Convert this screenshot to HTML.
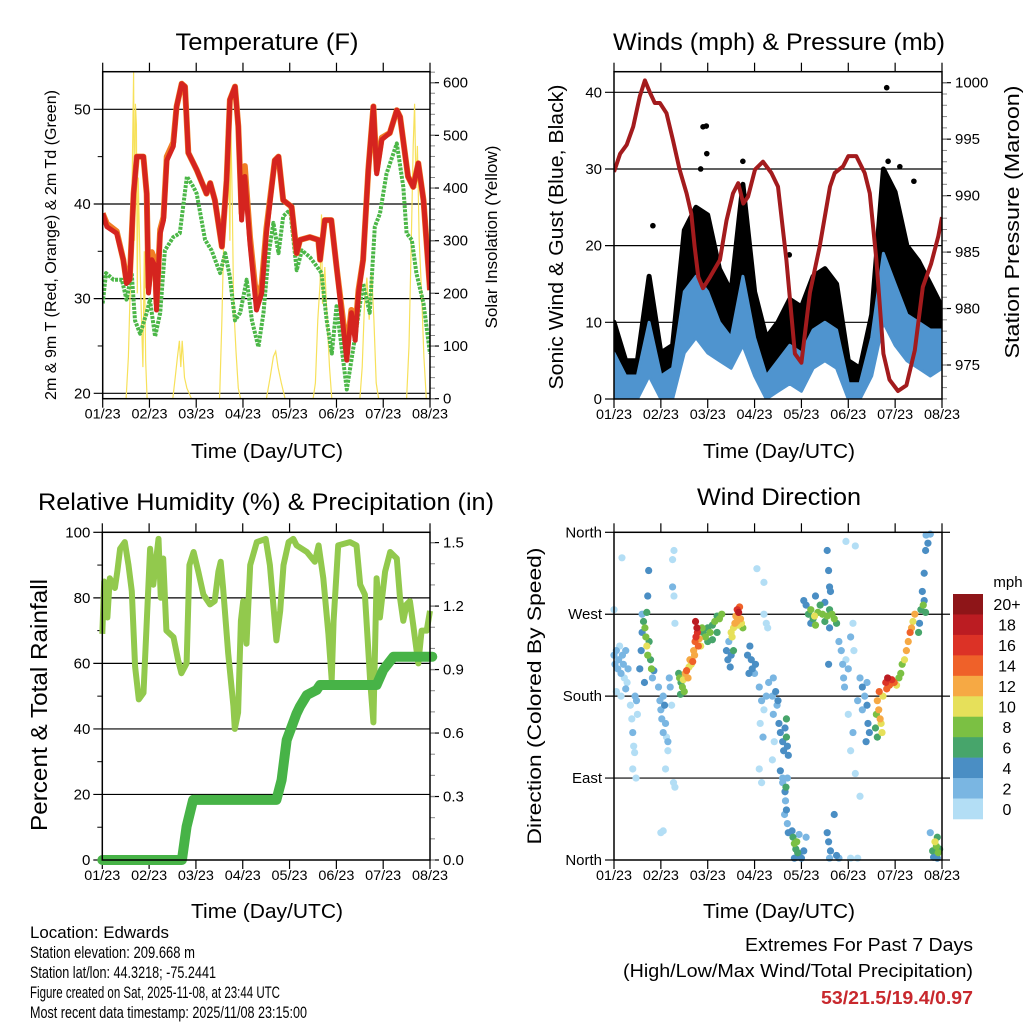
<!DOCTYPE html>
<html><head><meta charset="utf-8"><style>
html,body{margin:0;padding:0;background:#fff;}
svg{display:block;font-family:"Liberation Sans",Arial,sans-serif;}
</style></head><body>
<svg id="c" width="1024" height="1024" viewBox="0 0 1024 1024" xmlns="http://www.w3.org/2000/svg"></svg>
<script>
// ---------- DATA ----------
const dayLabels = ["01/23","02/23","03/23","04/23","05/23","06/23","07/23","08/23"];
const tempTicks = [20,30,40,50];
const solarTicks = [0,100,200,300,400,500,600];
const windTicks = [0,10,20,30,40];
const presTicks = [975,980,985,990,995,1000];
const rhTicks = [0,20,40,60,80,100];
const rainTicks = [0.0,0.3,0.6,0.9,1.2,1.5];
const rainTickLabels = ["0.0","0.3","0.6","0.9","1.2","1.5"];
const dirTicks = [0,90,180,270,360];
const dirLabels = ["North","East","South","West","North"];
const speedBins = ["0","2","4","6","8","10","12","14","16","18","20+"];
const speedColors = ["#b3def5","#7ab6e2","#4a8ec4","#47a56b","#7bc043","#e6e05a","#f6a944","#ef6129","#dc3226","#bb1c22","#8e1518"];

const tempRed = [[0,39],[0.09,37.6],[0.3,36.9],[0.44,34.1],[0.51,31.6],[0.58,32],[0.66,41.1],[0.73,45],[0.87,45],[0.94,41.1],[0.98,30.6],[1.05,34.1],[1.12,33.4],[1.15,28.8],[1.23,36.9],[1.3,38.3],[1.37,44.6],[1.51,46.1],[1.58,50.3],[1.69,52.7],[1.76,52.4],[1.83,45.4],[2.01,43.6],[2.22,41.1],[2.3,42.2],[2.4,40.4],[2.55,35.5],[2.65,42.5],[2.72,51],[2.83,52.4],[2.9,48.2],[2.97,38.3],[3.04,42.9],[3.15,35.8],[3.29,28.8],[3.4,30.6],[3.5,36.9],[3.68,44.6],[3.76,45],[3.86,40.4],[4.04,39.7],[4.15,34.8],[4.22,36.2],[4.43,36.5],[4.61,36.2],[4.65,34.1],[4.75,38.3],[4.89,38.3],[5.0,33.4],[5.22,23.5],[5.32,28.5],[5.4,25.6],[5.47,30.6],[5.57,34.1],[5.68,43.6],[5.79,50.3],[5.86,43.2],[5.97,46.8],[6.14,47.5],[6.29,49.9],[6.36,49.2],[6.53,42.9],[6.64,41.8],[6.75,44.3],[6.86,40.4],[7.0,30.9]];
const tempOrange = [[0,39],[0.09,37.9],[0.3,37.1],[0.44,34.1],[0.51,31.8],[0.58,32.2],[0.66,41.1],[0.73,45],[0.87,45],[0.94,41.1],[0.98,31.2],[1.05,34.9],[1.12,34],[1.15,29.5],[1.23,37.3],[1.3,38.6],[1.37,45],[1.51,46.5],[1.58,50.3],[1.69,52.7],[1.76,52.4],[1.83,45.4],[2.01,43.6],[2.22,41.1],[2.3,42.2],[2.4,40.4],[2.55,35.5],[2.65,42.5],[2.72,51],[2.83,52.4],[2.9,48.2],[2.97,39],[3.04,44],[3.15,36.5],[3.29,29.8],[3.4,31.5],[3.5,37.4],[3.68,44.6],[3.76,45],[3.86,40.4],[4.04,39.7],[4.15,34.8],[4.22,36.2],[4.43,36.5],[4.61,36.2],[4.65,34.1],[4.75,38.3],[4.89,38.3],[5.0,33.4],[5.22,24.5],[5.32,28.8],[5.4,26.5],[5.47,30.9],[5.57,34.1],[5.68,43.6],[5.79,50.3],[5.86,43.5],[5.97,47],[6.14,47.5],[6.29,49.9],[6.36,49.2],[6.53,42.9],[6.64,41.8],[6.75,44.3],[6.86,40.4],[7.0,30.9]];
const tempDew = [[0,29.5],[0.07,32.7],[0.23,32],[0.41,32],[0.51,29.9],[0.62,32.7],[0.69,27.7],[0.8,26.3],[0.94,28.5],[1.01,29.9],[1.12,26],[1.23,28.5],[1.33,35.1],[1.51,36.5],[1.65,36.9],[1.8,42.9],[1.94,41.8],[2.01,41.1],[2.19,36.2],[2.33,35.1],[2.51,32.7],[2.62,34.8],[2.72,32.3],[2.83,27.7],[2.94,28.5],[3.08,32],[3.19,27.7],[3.33,24.9],[3.44,28.5],[3.55,34.8],[3.65,38],[3.76,34.8],[3.86,38.7],[4.01,39.4],[4.15,33],[4.26,35.1],[4.43,34.4],[4.58,33.4],[4.68,32.7],[4.79,27.7],[4.9,24.2],[5.0,29.2],[5.22,20.4],[5.32,23.5],[5.43,27],[5.57,31.6],[5.71,28.5],[5.82,37.6],[5.93,39],[6.07,43.2],[6.29,46.4],[6.43,41.8],[6.5,36.9],[6.61,36.2],[6.71,32.7],[6.86,29.5],[7.0,24.2]];
const solar = [[0,0],[0.5,0],[0.55,80],[0.6,250],[0.63,420],[0.66,620],[0.68,300],[0.7,560],[0.72,520],[0.74,200],[0.76,420],[0.8,250],[0.83,150],[0.86,60],[0.89,280],[0.92,70],[0.95,0],[1.5,0],[1.55,40],[1.6,80],[1.64,110],[1.67,60],[1.7,110],[1.75,40],[1.8,20],[1.9,0],[2.5,0],[2.55,150],[2.6,350],[2.64,500],[2.68,560],[2.7,420],[2.72,300],[2.74,520],[2.77,380],[2.8,180],[2.85,90],[2.9,20],[2.95,0],[3.5,0],[3.58,40],[3.65,80],[3.7,90],[3.75,60],[3.82,30],[3.9,0],[4.5,0],[4.55,30],[4.6,150],[4.65,220],[4.68,350],[4.7,180],[4.75,250],[4.8,150],[4.85,60],[4.9,0],[5.5,0],[5.55,60],[5.6,180],[5.65,230],[5.7,150],[5.75,240],[5.8,150],[5.85,30],[5.9,0],[6.5,0],[6.55,100],[6.6,300],[6.64,480],[6.67,560],[6.7,400],[6.73,480],[6.77,300],[6.82,200],[6.87,80],[6.92,0],[7,0]];

const windDays = [0,0.25,0.5,0.75,1,1.25,1.5,1.75,2,2.25,2.5,2.75,3,3.25,3.5,3.75,4,4.25,4.5,4.75,5,5.25,5.5,5.75,6,6.25,6.5,6.75,7];
const windLo = [0,0,0,3,0,0,6,8,6,5,4,7,3,0,1,2,1,4,5,4,0,0,3,10,7,5,4,3,4];
const windHi = [6,3,3,10,3,4,14,16,14,10,8,16,8,3,5,7,6,9,10,9,2,2,8,19,15,11,10,9,9];
const gustLo = [3,1,2,7,1,2,10,13,10,8,6,12,5,1,3,5,4,6,8,7,1,1,5,17,14,9,9,7,6];
const gustHi = [10,5,5,16,6,7,22,25,24,17,14,28,14,8,10,13,12,16,17,15,5,4,11,30,27,20,18,15,12];
const gustOutliers = [[0.83,22.6],[1.85,30],[1.9,35.5],[1.97,35.6],[1.98,32],[2.75,31],[5.82,40.6],[5.85,31],[6.1,30.3],[6.4,28.4],[3.74,18.8]];
const pressure = [[0,992.1],[0.13,993.7],[0.27,994.5],[0.41,996.1],[0.55,998.8],[0.66,1000.2],[0.77,999.1],[0.87,998.2],[0.98,998.2],[1.12,997.3],[1.26,994.9],[1.4,992.3],[1.55,990.2],[1.65,988.4],[1.72,985.5],[1.8,982.8],[1.9,981.8],[2.05,982.8],[2.26,984.3],[2.4,987.8],[2.54,990.2],[2.65,991.1],[2.76,989.3],[2.86,989.9],[3.01,992.3],[3.18,993],[3.36,992],[3.5,990.8],[3.68,984.3],[3.86,976],[4.0,975.2],[4.18,981.4],[4.39,985.5],[4.61,990.8],[4.71,992],[4.89,992.6],[5.0,993.5],[5.17,993.5],[5.35,992],[5.46,990.2],[5.6,984.3],[5.75,976],[5.88,973.7],[6.06,972.7],[6.24,973.2],[6.42,976.3],[6.59,981.9],[6.77,984],[6.92,986.4],[7.0,988.1]];

const rhSeries = [[0,69],[0.04,85],[0.11,74],[0.16,86],[0.27,83],[0.32,88],[0.38,95],[0.48,97],[0.56,90],[0.63,82],[0.7,59],[0.78,49],[0.88,51],[0.95,73],[1.02,95],[1.09,84],[1.2,98],[1.25,80],[1.3,92],[1.37,70],[1.52,68],[1.62,61],[1.69,57],[1.8,60],[1.86,90],[1.95,94],[2.05,88],[2.16,81],[2.3,78],[2.4,79],[2.48,88],[2.53,91],[2.58,83],[2.69,63],[2.8,47],[2.83,40],[2.9,45],[2.96,73],[3.01,79],[3.08,66],[3.16,90],[3.3,97],[3.49,98],[3.58,90],[3.72,67],[3.8,76],[3.87,90],[3.98,97],[4.08,98],[4.15,96],[4.37,94],[4.54,91],[4.62,96],[4.72,86],[4.83,69],[4.9,55],[4.94,73],[5.04,96],[5.29,97],[5.43,96],[5.51,84],[5.61,81],[5.72,55],[5.79,42],[5.86,86],[5.93,74],[6.04,88],[6.15,94],[6.29,92],[6.36,80],[6.43,73],[6.5,78],[6.57,79],[6.64,72],[6.75,60],[6.82,70],[6.93,70],[7.0,76]];
const rainSeries = [[0,0],[1.7,0],[1.8,0.158],[1.94,0.284],[3.72,0.284],[3.83,0.378],[3.94,0.567],[4.15,0.693],[4.22,0.725],[4.37,0.78],[4.58,0.804],[4.65,0.827],[5.86,0.827],[6.0,0.898],[6.22,0.961],[7.05,0.961]];

const dirObs = [[0.0,225,3],[0.02,215,2],[0.05,230,3],[0.08,210,3],[0.1,220,2],[0.12,235,1],[0.15,205,3],[0.18,225,2],[0.2,215,3],[0.22,200,1],[0.25,230,2],[0.28,195,1],[0.3,210,2],[0.05,185,1],[0.15,180,1],[0.0,275,1],[0.17,332,1],[0.25,188,2],
[0.35,170,1],[0.38,155,1],[0.4,140,2],[0.42,125,1],[0.44,118,1],[0.4,100,1],[0.45,180,2],[0.48,175,2],[0.5,160,1],[0.47,90,1],
[0.55,210,4],[0.58,230,4],[0.6,250,5],[0.63,262,6],[0.66,255,8],[0.68,245,9],[0.7,235,10],[0.72,225,8],[0.75,240,7],[0.78,220,6],[0.8,210,8],[0.7,272,6],[0.72,290,4],[0.74,318,4],[0.82,200,3],[0.85,208,4],[0.65,195,5],[0.6,270,2],
[0.95,190,2],[0.98,175,2],[1.0,165,3],[1.02,155,2],[1.05,180,3],[1.08,170,4],[1.1,150,2],[1.12,135,1],[1.15,120,1],[1.05,140,3],[1.18,200,2],[1.2,190,2],[1.23,170,1],[1.25,330,1],[1.28,340,1],[1.25,300,2],[1.28,290,1],[1.3,260,1],[1.27,85,1],[1.3,80,1],[1.0,30,1],[1.05,32,1],[1.15,130,2],[1.1,100,1],
[1.38,205,6],[1.4,200,8],[1.43,195,7],[1.46,190,9],[1.48,198,10],[1.5,185,8],[1.52,205,12],[1.55,208,14],[1.58,200,13],[1.6,212,11],[1.62,220,12],[1.65,215,10],[1.42,182,6],
[1.7,230,12],[1.73,240,14],[1.75,245,17],[1.78,250,16],[1.8,235,14],[1.77,255,18],[1.74,262,19],[1.82,243,12],[1.85,235,10],[1.72,225,13],[1.68,218,15],
[1.9,250,7],[1.95,245,8],[2.0,255,7],[2.05,250,9],[2.1,258,7],[2.15,262,8],[2.2,268,7],[2.25,265,9],[2.3,270,8],[2.0,240,6],[2.1,242,7],[2.2,250,6],[1.88,255,9],
[2.4,230,4],[2.43,220,4],[2.45,240,3],[2.48,212,4],[2.5,250,10],[2.52,245,11],[2.55,255,10],[2.58,260,12],[2.5,225,5],[2.55,230,7],
[2.6,268,12],[2.63,275,16],[2.66,272,18],[2.68,278,14],[2.7,265,12],[2.72,260,10],[2.75,255,8],[2.62,262,13],[2.65,258,10],
[2.85,225,4],[2.9,235,5],[2.93,220,4],[2.95,210,4],[3.0,205,3],[3.02,215,4],[2.88,205,4],
[3.1,190,2],[3.15,175,2],[3.2,165,1],[3.12,150,1],[3.18,135,2],[3.1,100,1],[3.15,85,1],[3.2,270,1],[3.25,260,1],[3.28,255,1],[3.3,195,2],[3.25,180,2],[3.05,320,1],[3.2,305,1],
[3.4,200,3],[3.45,185,4],[3.48,170,3],[3.5,175,4],[3.52,150,4],[3.55,140,5],[3.6,130,4],[3.62,120,5],[3.65,145,4],[3.68,155,6],[3.7,125,4],[3.72,115,5],[3.68,135,7],[3.4,160,2],[3.42,130,1],[3.38,110,1],[3.55,98,4],[3.6,90,3],[3.38,180,2],[3.7,90,3],
[3.6,85,3],[3.65,75,4],[3.67,80,6],[3.66,65,3],[3.68,55,4],[3.64,50,3],[3.7,40,3],[3.72,30,4],
[3.8,32,4],[3.82,25,6],[3.85,18,8],[3.88,12,7],[3.9,20,8],[3.92,8,6],[3.95,5,5],[3.85,2,4],[3.9,3,3],[4.0,2,5],[4.05,10,4],[3.95,28,3],[4.1,25,2],
[4.1,280,5],[4.15,270,6],[4.2,275,8],[4.25,265,7],[4.28,268,10],[4.3,258,8],[4.35,272,8],[4.4,280,7],[4.45,270,9],[4.5,262,7],[4.55,268,8],[4.6,275,6],[4.65,270,9],[4.7,265,8],[4.75,260,6],[4.5,283,4],[4.2,260,5],[4.3,290,4],[4.05,285,4],
[4.55,340,4],[4.58,318,4],[4.6,300,4],[4.62,295,5],[4.6,255,4],[4.58,215,4],[4.55,30,4],[4.58,20,4],[4.62,10,4],[4.6,2,3],[4.75,5,4],[4.8,2,2],[4.7,50,4],
[4.8,240,3],[4.85,230,2],[4.88,215,3],[4.9,200,2],[4.92,190,2],[4.95,220,1],[5.0,210,2],[5.05,245,2],[5.1,260,1],[5.12,230,1],[4.95,350,1],[5.15,345,1],[5.0,160,1],[5.1,140,2],[5.05,120,1],[5.15,95,1],[5.25,70,1],[5.2,2,1],[5.05,2,1],
[5.25,200,3],[5.3,190,4],[5.35,180,3],[5.4,170,4],[5.42,150,4],[5.45,140,5],[5.3,165,2],[5.2,175,2],[5.4,195,3],[5.38,130,4],
[5.62,175,12],[5.65,165,13],[5.68,155,12],[5.7,150,11],[5.72,140,10],[5.6,160,8],[5.58,145,6],[5.66,185,14],[5.74,180,10],[5.62,135,7],
[5.8,195,16],[5.84,200,18],[5.88,192,14],[5.93,198,16],[5.98,195,14],[6.03,192,10],[5.82,188,14],[6.08,200,8],[6.12,205,8],
[6.15,215,9],[6.2,220,10],[6.24,230,12],[6.28,240,12],[6.32,250,14],[6.35,255,12],[6.38,262,10],[6.42,270,12],
[6.5,250,7],[6.52,260,4],[6.55,275,6],[6.6,280,8],[6.62,285,4],[6.65,272,6],[6.58,295,4],[6.62,315,4],[6.65,340,4],[6.7,348,4],[6.75,358,2],[6.66,357,3],
[6.8,10,6],[6.85,20,10],[6.88,15,8],[6.9,25,6],[6.92,8,8],[6.95,12,6],[6.82,3,4],[6.9,2,4],[6.75,30,3]];

// ---------- HELPERS ----------
const NS = "http://www.w3.org/2000/svg";
const svg = document.getElementById("c");
function mk(tag, attrs, parent, name, inter) {
  const e = document.createElementNS(NS, tag);
  for (const k in attrs) e.setAttribute(k, attrs[k]);
  
  
  (parent || svg).appendChild(e);
  return e;
}
function txt(s, x, y, size, anchor, parent, name, opts) {
  opts = opts || {};
  const a = {x:x, y:y, "font-size":size, "text-anchor":anchor, fill: opts.fill || "#000"};
  if (opts.len) { a.textLength = opts.len; a.lengthAdjust = "spacingAndGlyphs"; }
  if (opts.rot !== undefined) a.transform = "rotate(" + opts.rot + " " + x + " " + y + ")";
  if (opts.weight) a["font-weight"] = opts.weight;
  const t = mk("text", a, parent, name, false);
  t.textContent = s;
  return t;
}
function scale(d0, d1, r0, r1) { return v => r0 + (v - d0) * (r1 - r0) / (d1 - d0); }
function pathFrom(arr, sx, sy) { return arr.map((p, i) => (i ? "L" : "M") + sx(p[0]).toFixed(1) + " " + sy(p[1]).toFixed(1)).join(" "); }

function frame(g, box, leftTicks, leftScale, leftLabels, rightTicks, rightScale, rightLabels, rightMinor, leftMinor) {
  const {x0, x1, y0, y1} = box;
  const sx = scale(0, 7, x0, x1);
  leftTicks.forEach((v, i) => {
    const y = leftScale(v);
    if (y > y0 + 1 && y < y1 - 1) mk("line", {x1:x0 - 9, x2:x1, y1:y, y2:y, stroke:"#000", "stroke-width":1.2}, g, "grid-line", false);
    else mk("line", {x1:x0 - 9, x2:x0, y1:y, y2:y, stroke:"#000", "stroke-width":1.2}, g, "y-tick", false);
    txt(leftLabels[i], x0 - 12, y + 5, 15, "end", g, "y-tick-label");
  });
  (leftMinor || []).forEach(v => {
    const y = leftScale(v);
    mk("line", {x1:x0 - 5, x2:x0, y1:y, y2:y, stroke:"#000", "stroke-width":1}, g, "y-minor-tick", false);
  });
  if (rightTicks) {
    rightTicks.forEach((v, i) => {
      const y = rightScale(v);
      mk("line", {x1:x1, x2:x1 + 9, y1:y, y2:y, stroke:"#000", "stroke-width":1.2}, g, "y2-tick", false);
      txt(rightLabels[i], x1 + 13, y + 5, 15, "start", g, "y2-tick-label");
    });
    (rightMinor || []).forEach(v => {
      const y = rightScale(v);
      if (y >= y0 && y <= y1) mk("line", {x1:x1, x2:x1 + 5, y1:y, y2:y, stroke:"#888", "stroke-width":1}, g, "y2-minor-tick", false);
    });
  }
  dayLabels.forEach((lab, i) => {
    const x = sx(i);
    mk("line", {x1:x, x2:x, y1:y0 - 9, y2:y0, stroke:"#000", "stroke-width":1.2}, g, "x-tick-top", false);
    mk("line", {x1:x, x2:x, y1:y1, y2:y1 + 9, stroke:"#000", "stroke-width":1.2}, g, "x-tick", false);
    txt(lab, x, y1 + 20, 14, "middle", g, "x-tick-label", {len:36});
  });
  return sx;
}
function border(g, box) {
  mk("rect", {x:box.x0, y:box.y0, width:box.x1 - box.x0, height:box.y1 - box.y0, fill:"none", stroke:"#000", "stroke-width":1.5}, g, "plot-border", false);
}
function clip(id, box) {
  const cp = mk("clipPath", {id:id}, svg, "clip-region", false);
  mk("rect", {x:box.x0, y:box.y0, width:box.x1 - box.x0, height:box.y1 - box.y0}, cp, "clip-rect", false);
}
function range(a, b, s) { const r = []; for (let v = a; v <= b + 1e-9; v += s) r.push(+v.toFixed(3)); return r; }

// ---------- PANEL 1: TEMPERATURE ----------
{
  const box = {x0:102.7, x1:430, y0:71.7, y1:398.7};
  const g = mk("g", {}, svg, "temperature-panel", false);
  const yT = scale(20, 50, 393.3, 109.3);
  const yS = scale(0, 600, 398.7, 82.7);
  const sx = frame(g, box, tempTicks, yT, tempTicks.map(String), solarTicks, yS, solarTicks.map(String), range(0, 620, 20), [25,35,45]);
  clip("c1", box);
  const d = mk("g", {"clip-path":"url(#c1)"}, g, "temperature-series", false);
  mk("path", {d:pathFrom(solar, sx, yS), fill:"none", stroke:"#f7e15a", "stroke-width":1.2}, d, "solar-insolation-line", false);
  mk("path", {d:pathFrom(tempDew, sx, yT), fill:"none", stroke:"#4cb748", "stroke-width":4, "stroke-dasharray":"3 1.2", "stroke-linejoin":"round"}, d, "dewpoint-2m-line", false);
  mk("path", {d:pathFrom(tempOrange, sx, yT), fill:"none", stroke:"#f07e25", "stroke-width":6, "stroke-linejoin":"round"}, d, "temp-9m-line", false);
  mk("path", {d:pathFrom(tempRed, sx, yT), fill:"none", stroke:"#d5241f", "stroke-width":5, "stroke-linejoin":"round"}, d, "temp-2m-line", false);
  border(g, box);
  txt("Temperature (F)", 267, 50, 24, "middle", g, "temperature-title", {len:183});
  txt("Time (Day/UTC)", 267, 458, 20, "middle", g, "temperature-x-axis-title", {len:152});
  txt("2m & 9m T (Red, Orange) & 2m Td (Green)", 56, 245, 16, "middle", g, "temperature-y-axis-title", {rot:-90, len:310});
  txt("Solar Insolation (Yellow)", 497, 237, 17, "middle", g, "solar-y-axis-title", {rot:-90, len:183});
}

// ---------- PANEL 2: WINDS & PRESSURE ----------
{
  const box = {x0:614, x1:942, y0:71.7, y1:399};
  const g = mk("g", {}, svg, "winds-panel", false);
  const yW = scale(0, 40, 399, 92.3);
  const yP = scale(975, 1000, 365, 82.7);
  const sx = frame(g, box, windTicks, yW, windTicks.map(String), presTicks, yP, presTicks.map(String), range(972, 1001, 1));
  clip("c2", box);
  const d = mk("g", {"clip-path":"url(#c2)"}, g, "wind-series", false);
  const gustPoly = windDays.map((t, i) => [t, gustHi[i]]).concat(windDays.map((t, i) => [t, gustLo[i]]).reverse());
  mk("path", {d:pathFrom(gustPoly, sx, yW) + "Z", fill:"#000", stroke:"#000", "stroke-width":5, "stroke-linejoin":"round"}, d, "gust-band", false);
  gustOutliers.forEach(p => {
    mk("circle", {cx:sx(p[0]), cy:yW(p[1]), r:2.8, fill:"#000"}, d, "gust-point", false);
  });
  const windPoly = windDays.map((t, i) => [t, windHi[i]]).concat(windDays.map((t, i) => [t, windLo[i]]).reverse());
  mk("path", {d:pathFrom(windPoly, sx, yW) + "Z", fill:"#4f94cf", stroke:"#4f94cf", "stroke-width":3, "stroke-linejoin":"round"}, d, "wind-speed-band", false);
  mk("path", {d:pathFrom(pressure, sx, yP), fill:"none", stroke:"#a31b1d", "stroke-width":4, "stroke-linejoin":"round"}, d, "pressure-line", false);
  border(g, box);
  txt("Winds (mph) & Pressure (mb)", 779, 50, 24, "middle", g, "winds-title", {len:332});
  txt("Time (Day/UTC)", 779, 458, 20, "middle", g, "winds-x-axis-title", {len:152});
  txt("Sonic Wind & Gust (Blue, Black)", 563, 237, 20, "middle", g, "wind-y-axis-title", {rot:-90, len:305});
  txt("Station Pressure (Maroon)", 1019, 222, 20, "middle", g, "pressure-y-axis-title", {rot:-90, len:273});
}

// ---------- PANEL 3: RH & PRECIP ----------
{
  const box = {x0:102.3, x1:430, y0:532.3, y1:860};
  const g = mk("g", {}, svg, "humidity-panel", false);
  const yR = scale(0, 100, 860, 532.3);
  const yP = scale(0, 1.5, 860, 542.6);
  const sx = frame(g, box, rhTicks, yR, rhTicks.map(String), rainTicks, yP, rainTickLabels, range(0, 1.5, 0.1), [10,30,50,70,90]);
  clip("c3", {x0:95, x1:440, y0:532.3, y1:868});
  const d = mk("g", {"clip-path":"url(#c3)"}, g, "humidity-series", false);
  mk("path", {d:pathFrom(rhSeries, sx, yR), fill:"none", stroke:"#92c94d", "stroke-width":6, "stroke-linejoin":"round"}, d, "relative-humidity-line", false);
  mk("path", {d:pathFrom(rainSeries, sx, yP), fill:"none", stroke:"#47b347", "stroke-width":10, "stroke-linejoin":"round", "stroke-linecap":"round"}, d, "total-rainfall-line", false);
  border(g, box);
  txt("Relative Humidity (%) & Precipitation (in)", 266, 510, 24, "middle", g, "humidity-title", {len:456});
  txt("Time (Day/UTC)", 267, 918, 20, "middle", g, "humidity-x-axis-title", {len:152});
  txt("Percent & Total Rainfall", 47, 705, 23, "middle", g, "humidity-y-axis-title", {rot:-90, len:252});
}

// ---------- PANEL 4: WIND DIRECTION ----------
{
  const box = {x0:614, x1:942, y0:532.3, y1:860};
  const g = mk("g", {}, svg, "wind-direction-panel", false);
  const yD = scale(0, 360, 860, 532.3);
  const sx = frame(g, box, dirTicks, yD, dirLabels, null);
  dirTicks.forEach(v => {
    mk("line", {x1:box.x1, x2:box.x1 + 8, y1:yD(v), y2:yD(v), stroke:"#000", "stroke-width":1.2}, g, "grid-line-ext", false);
  });
  const d = mk("g", {}, g, "wind-direction-points", false);
  const order = dirObs.slice().sort((a, b) => a[2] - b[2]);
  order.forEach(p => {
    const bin = Math.min(10, Math.floor(p[2] / 2));
    mk("circle", {cx:sx(p[0]), cy:yD(p[1]), r:3.6, fill:speedColors[bin]}, d, "wind-direction-point", false);
  });
  border(g, box);
  txt("Wind Direction", 779, 505, 24, "middle", g, "wind-direction-title", {len:164});
  txt("Time (Day/UTC)", 779, 918, 20, "middle", g, "wind-direction-x-axis-title", {len:152});
  txt("Direction (Colored By Speed)", 541, 696, 19, "middle", g, "wind-direction-y-axis-title", {rot:-90, len:297});
  const cb = mk("g", {}, svg, "speed-colorbar", false);
  const top = 594, h = 225 / 11;
  txt("mph", 1008, 587, 15, "middle", cb, "colorbar-unit-label");
  for (let i = 0; i < 11; i++) {
    const idx = 10 - i;
    mk("rect", {x:953, y:top + i * h, width:30, height:h + 0.3, fill:speedColors[idx]}, cb, "colorbar-swatch", false);
    txt(speedBins[idx], 1007, top + i * h + h / 2 + 6, 16, "middle", cb, "colorbar-label");
  }
}

// ---------- FOOTER ----------
{
  const g = mk("g", {}, svg, "station-info", false);
  const lines = ["Location: Edwards","Station elevation: 209.668 m","Station lat/lon: 44.3218; -75.2441","Figure created on Sat, 2025-11-08, at 23:44 UTC","Most recent data timestamp: 2025/11/08 23:15:00"];
  const lens = [139,165,186,250,277];
  lines.forEach((s, i) => txt(s, 30, 938 + i * 20, 17, "start", g, "station-info-line", {len:lens[i]}));
  const r = mk("g", {}, svg, "extremes-summary", false);
  txt("Extremes For Past 7 Days", 973, 951, 18, "end", r, "extremes-title", {len:228});
  txt("(High/Low/Max Wind/Total Precipitation)", 973, 977, 18, "end", r, "extremes-subtitle", {len:350});
  txt("53/21.5/19.4/0.97", 973, 1004, 18, "end", r, "extremes-values", {len:152, weight:"bold", fill:"#c8282d"});
}
</script>
</body></html>
